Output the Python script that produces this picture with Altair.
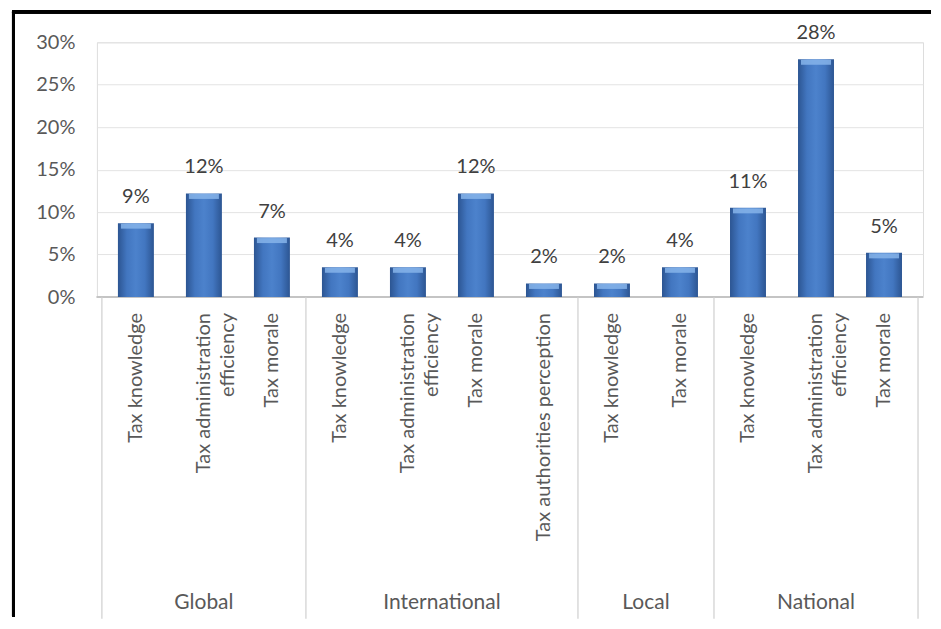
import altair as alt
import pandas as pd

# ---- data ----
groups = ["Global", "Global", "Global",
          "International", "International", "International", "International",
          "Local", "Local",
          "National", "National", "National"]
subcats = ["Tax knowledge", "Tax administration\nefficiency", "Tax morale",
           "Tax knowledge", "Tax administration\nefficiency", "Tax morale",
           "Tax authorities perception",
           "Tax knowledge", "Tax morale",
           "Tax knowledge", "Tax administration\nefficiency", "Tax morale"]
values_pct = [8.7, 12.2, 7.0, 3.5, 3.5, 12.2, 1.6, 1.6, 3.5, 10.5, 28.0, 5.2]
value_labels = ["9%", "12%", "7%", "4%", "4%", "12%", "2%", "2%", "4%", "11%", "28%", "5%"]
group_names = ["Global", "International", "Local", "National"]
y_ticks = [0, 0.05, 0.10, 0.15, 0.20, 0.25, 0.30]

# ---- tables built from the lists ----
n = len(subcats)
df = pd.DataFrame({
    "group": groups,
    "sub": subcats,
    "value": [v / 100 for v in values_pct],
    "label": value_labels,
    "pos": [i + 0.5 for i in range(n)],
})
bounds = []
i = 0
for g in group_names:
    c = groups.count(g)
    bounds.append({"group": g, "start": i, "end": i + c, "mid": (2 * i + c) / 2})
    i += c
gdf = pd.DataFrame(bounds)
sep_df = pd.DataFrame({"b": [0] + list(gdf["end"])})

W, H = 827, 255
FONT = "Lato"
GRAY = "#595959"

xs = alt.Scale(domain=[0, n], nice=False, zero=False)
ys = alt.Scale(domain=[0, 0.30], nice=False)

base = alt.Chart(df)

grid = base.mark_bar(opacity=0).encode(
    x=alt.X("pos:Q", scale=xs, axis=None),
    y=alt.Y("value:Q", scale=ys,
            axis=alt.Axis(values=y_ticks, format=".0%", domain=False, ticks=False,
                          labelPadding=22, labelFontSize=20, labelFont=FONT,
                          labelColor=GRAY, gridColor="#e3e3e3", title=None)),
)

bars = base.mark_bar(
    size=36,
    color=alt.Gradient(
        gradient="linear", x1=0, x2=1, y1=0, y2=0,
        stops=[alt.GradientStop(color="#2c5592", offset=0),
               alt.GradientStop(color="#4276c0", offset=0.25),
               alt.GradientStop(color="#4c82cc", offset=0.5),
               alt.GradientStop(color="#4276c0", offset=0.75),
               alt.GradientStop(color="#2c5592", offset=1)]),
).encode(x=alt.X("pos:Q", scale=xs), y=alt.Y("value:Q", scale=ys))

bevel = base.mark_tick(orient="horizontal", thickness=5, size=30, yOffset=3,
                       color="#86b4ea", opacity=0.85).encode(
    x=alt.X("pos:Q", scale=xs), y=alt.Y("value:Q", scale=ys))

vlabels = base.mark_text(dy=-26, baseline="middle", fontSize=20, font=FONT,
                         color="#404040").encode(
    x=alt.X("pos:Q", scale=xs), y=alt.Y("value:Q", scale=ys), text="label:N")

baseline = alt.Chart(df).mark_rule(color="#c4c4c4", strokeWidth=1.2).encode(
    y=alt.datum(0, scale=ys))

catlabels = base.mark_text(angle=270, align="right", baseline="middle",
                           fontSize=20, font=FONT, color=GRAY, lineBreak="\n",
                           lineHeight=24).encode(
    x=alt.X("pos:Q", scale=xs), y=alt.value(H + 16), text="sub:N")

seps = alt.Chart(sep_df).mark_rule(color="#cfcfcf", strokeWidth=1.2).encode(
    x=alt.X("b:Q", scale=xs), y=alt.value(H), y2=alt.value(H + 322))

glabels = alt.Chart(gdf).mark_text(fontSize=21, font=FONT, color=GRAY,
                                   baseline="middle").encode(
    x=alt.X("mid:Q", scale=xs), y=alt.value(H + 306), text="group:N")

frame_left = alt.Chart(df).mark_rule(color="#000000", strokeWidth=3).encode(
    x=alt.value(-83.5), y=alt.value(-30.5), y2=alt.value(H + 320))
frame_top = alt.Chart(df).mark_rule(color="#000000", strokeWidth=3).encode(
    x=alt.value(-85), x2=alt.value(W + 8), y=alt.value(-30.5))

chart = alt.layer(grid, baseline, seps, bars, bevel, vlabels, catlabels, glabels,
                  frame_left, frame_top).properties(
    width=W, height=H,
    padding={"left": 2, "top": 2, "right": 0, "bottom": 0},
).configure_view(stroke=None).configure(background="white")

chart.save("out.html", embed_options={"renderer": "svg", "actions": False})
